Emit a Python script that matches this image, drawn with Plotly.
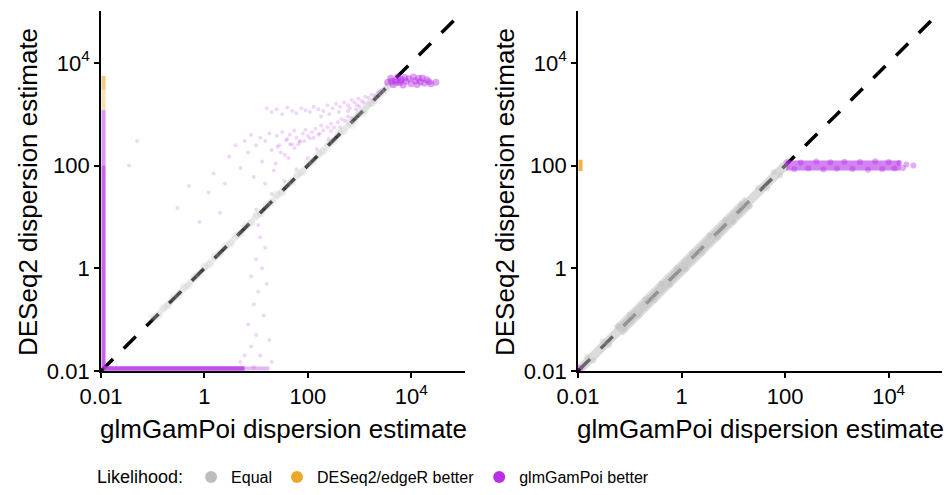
import plotly.graph_objects as go

# ---------------- data ----------------
# Left panel
a_eq_x = [0.1, 0.13, 0.16, 0.2, 0.25, 0.32, 0.4, 0.5, 0.63, 0.8, 1.0, 1.25, 1.6, 2.0, 2.5, 3.2, 4.0, 5.0,
          6.3, 8.0, 10, 12.5, 16, 20, 25, 32, 40, 50, 63, 80, 100, 125, 160, 200, 250, 320, 400, 500, 630,
          800, 1000, 1250, 1600, 2000, 2500, 3200, 4000,
          700, 900, 1150, 1400, 1800, 2200, 2800, 3500, 4500]
a_eq_y = [0.11, 0.12, 0.17, 0.19, 0.27, 0.30, 0.43, 0.47, 0.67, 0.76, 1.08, 1.18, 1.7, 1.9, 2.7, 3.0, 4.3, 4.7,
          6.8, 7.5, 10.8, 11.8, 17, 19, 27, 30, 43, 47, 68, 75, 108, 118, 170, 190, 270, 300, 430, 470, 680,
          760, 1080, 1180, 1700, 1900, 2700, 3000, 4200,
          620, 950, 1050, 1500, 1650, 2300, 2600, 3600, 3800]
a_eqline_x = [0.1, 4500]
a_eqline_y = [0.1, 4500]

a_pv_x = [0.0112, 0.0112]           # glmGamPoi better, DESeq2 at boundary (vertical band)
a_pv_y = [0.0112, 100]
a_pv2_x = [0.0112, 0.0112]
a_pv2_y = [100, 1200]
a_or_x = [0.0112, 0.0112]           # DESeq2/edgeR better
a_or_y = [1200, 3000]
a_or2_x = [0.0112, 0.0112]
a_or2_y = [3000, 5600]
a_ph_x = [0.0112, 6]                # glmGamPoi better, glmGamPoi at boundary (horizontal band)
a_ph_y = [0.0112, 0.0112]
a_ph2_x = [6, 18]
a_ph2_y = [0.0112, 0.0112]

a_fan_x = [16, 20, 25, 32, 40, 50, 60, 75, 90, 110, 130, 160, 200, 240, 300, 350, 420, 500, 600, 700, 800,
           950, 1100, 1300, 1500, 1700, 2000, 2300, 2600,
           3, 4, 5, 6, 7, 8, 9, 10, 12, 13, 15, 18, 20, 22, 25, 28, 32, 36, 40, 45, 50, 55, 60, 70, 80, 90,
           100, 120, 140, 160, 180, 200, 240, 280, 320, 380, 450, 520, 600, 700,
           0.05, 0.035, 0.3, 0.5, 0.8, 1.2, 1.5, 2, 2.5,
           10, 20, 35, 60, 100, 150, 250,
           6, 8, 10, 12, 7, 14, 9, 11, 16, 8, 13, 10, 15, 12, 11, 18, 20, 5, 9,
           180, 260, 400, 650, 900, 1200, 55, 85, 130, 30, 45, 70,
           26, 38, 65, 110, 170, 280, 420, 600, 850, 1000, 15, 24, 42]
a_fan_y = [1300, 1100, 1250, 1000, 1350, 1150, 1050, 1300, 1200, 1100, 1400, 1250, 1150, 1500, 1300, 1600,
           1400, 1700, 1500, 1900, 1700, 2000, 1800, 2200, 2100, 2400, 2300, 2700, 2900,
           150, 250, 90, 300, 180, 400, 60, 250, 350, 120, 300, 420, 200, 80, 380, 250, 450, 160, 330, 400,
           260, 480, 350, 300, 420, 500, 380, 450, 520, 400, 600, 480, 560, 650, 550, 700, 800, 750, 900, 850,
           300, 100, 15, 40, 8, 30, 70, 12, 45,
           14, 28, 50, 85, 140, 210, 330,
           0.02, 0.03, 0.05, 0.02, 0.08, 0.12, 0.2, 0.35, 0.5, 0.7, 1.0, 1.5, 2.5, 4, 7, 0.04, 0.015, 0.015,
           0.012,
           900, 1000, 1100, 1300, 1500, 1700, 220, 300, 350, 180, 260, 290,
           230, 310, 260, 340, 420, 470, 560, 1150, 1250, 1400, 45, 110, 140]

a_top_x = [3500, 4000, 4500, 5000, 5500, 6000, 6500, 7000, 7500, 8000, 9000, 10000, 11000, 12000, 13000,
           14000, 15000, 16500, 18000, 20000, 22000, 24000, 30000, 4200, 5200, 6200]
a_top_y = [4200, 5000, 3800, 4600, 5300, 4100, 4800, 3700, 5200, 4400, 4900, 3900, 5300, 4500, 3800, 5000,
           4300, 5100, 4000, 4700, 4300, 3900, 4200, 4400, 4200, 4500]

# Right panel
b_eq_x = [0.011, 110]
b_eq_y = [0.011, 110]
b_core_x = [0.06, 20]
b_core_y = [0.06, 20]
b_fz_x = [0.015, 0.02, 0.03, 0.04, 0.06, 0.08, 0.1, 0.15, 0.2, 0.3, 0.4, 0.6, 0.8, 1.2, 1.6, 2.5, 3.5, 5, 7,
          10, 14, 20, 30, 45, 60, 80]
b_fz_y = [0.019, 0.016, 0.038, 0.032, 0.075, 0.064, 0.125, 0.12, 0.25, 0.24, 0.5, 0.48, 1.0, 0.96, 2.0, 2.0,
          4.4, 4.0, 8.8, 8.0, 17.5, 16, 37, 36, 75, 64]

b_pb_x = [105, 17000]
b_pb_y = [100, 100]
b_pf_x = [110, 150, 200, 280, 400, 550, 750, 1000, 1400, 2000, 2800, 4000, 5500, 7500, 10000, 13000, 16000,
          19000, 22000, 30000, 0.0112]
b_pf_y = [118, 85, 115, 88, 120, 84, 116, 87, 119, 86, 117, 83, 121, 85, 118, 88, 112, 90, 105, 100, 0.0115]
b_or_x = [0.0112, 0.0112]
b_or_y = [78, 130]

diag = [0.01, 80000]

tick_vals = [0.01, 1, 100, 10000]
tick_text = ["0.01", "1", "100", "10<sup>4</sup>"]
legend_names = ["Equal", "DESeq2/edgeR better", "glmGamPoi better"]

# ---------------- styling ----------------
GRAY = "#BEBEBE"
ORANGE = "#EBA92A"
PURPLE = "#B730E8"
FONT = "Liberation Sans, Arial, Helvetica, sans-serif"

fig = go.Figure()

def add_diag(xa, ya):
    fig.add_trace(go.Scatter(x=diag, y=diag, mode="lines", xaxis=xa, yaxis=ya, showlegend=False,
                             line=dict(color="black", width=3.5, dash="17px,15px"), hoverinfo="skip"))

def add_line(x, y, xa, ya, color, width, op):
    fig.add_trace(go.Scatter(x=x, y=y, mode="lines", xaxis=xa, yaxis=ya, showlegend=False, opacity=op,
                             line=dict(color=color, width=width), hoverinfo="skip"))

def add_pts(x, y, xa, ya, color, size, op):
    fig.add_trace(go.Scatter(x=x, y=y, mode="markers", xaxis=xa, yaxis=ya, showlegend=False,
                             marker=dict(color=color, size=size, opacity=op, line=dict(width=0)),
                             hoverinfo="skip"))

# left panel
add_diag("x", "y")
add_line(a_eqline_x, a_eqline_y, "x", "y", GRAY, 6, 0.25)
add_pts(a_eq_x, a_eq_y, "x", "y", GRAY, 8, 0.2)
add_line(a_pv_x, a_pv_y, "x", "y", PURPLE, 4, 0.75)
add_line(a_pv2_x, a_pv2_y, "x", "y", PURPLE, 4, 0.5)
add_line(a_or_x, a_or_y, "x", "y", ORANGE, 4, 0.35)
add_line(a_or2_x, a_or2_y, "x", "y", ORANGE, 4, 0.6)
add_line(a_ph_x, a_ph_y, "x", "y", PURPLE, 4.5, 0.85)
add_line(a_ph2_x, a_ph2_y, "x", "y", PURPLE, 4, 0.35)
add_pts(a_fan_x, a_fan_y, "x", "y", PURPLE, 4, 0.2)
add_pts(a_top_x, a_top_y, "x", "y", PURPLE, 7, 0.45)

# right panel
add_diag("x2", "y2")
add_line(b_eq_x, b_eq_y, "x2", "y2", GRAY, 9, 0.55)
add_line(b_core_x, b_core_y, "x2", "y2", GRAY, 13, 0.5)
add_pts(b_fz_x, b_fz_y, "x2", "y2", GRAY, 6, 0.35)
add_line(b_pb_x, b_pb_y, "x2", "y2", PURPLE, 10, 0.6)
add_pts(b_pf_x, b_pf_y, "x2", "y2", PURPLE, 6, 0.4)
add_line(b_or_x, b_or_y, "x2", "y2", ORANGE, 4, 0.85)

# legend entries
for nm, col in zip(legend_names, [GRAY, ORANGE, PURPLE]):
    fig.add_trace(go.Scatter(x=[None], y=[None], mode="markers", name=nm, xaxis="x", yaxis="y",
                             marker=dict(color=col, size=12)))

W, H = 948, 495

def xax(dom, rng):
    return dict(type="log", domain=dom, range=rng, showline=True, linecolor="black", linewidth=1.8,
                ticks="outside", ticklen=5, tickwidth=1.5, tickcolor="black", tickvals=tick_vals,
                ticktext=tick_text, showgrid=False, zeroline=False, automargin=False,
                tickfont=dict(family=FONT, size=22, color="black"))

fig.update_layout(
    width=W, height=H, margin=dict(l=0, r=0, t=0, b=0, autoexpand=False),
    paper_bgcolor="white", plot_bgcolor="white",
    xaxis=dict(**xax([101 / W, 465 / W], [-2, 5.04]), anchor="y"),
    yaxis=dict(**xax([1 - 371 / H, 1 - 11 / H], [-2, 5.01]), anchor="x"),
    xaxis2=dict(**xax([578 / W, 942 / W], [-2, 5.03]), anchor="y2"),
    yaxis2=dict(**xax([1 - 371 / H, 1 - 11 / H], [-2, 5.01]), anchor="x2"),
    legend=dict(orientation="h", x=95 / W, xanchor="left", y=1 - 477 / H, yanchor="middle",
                font=dict(family=FONT, size=16, color="black"), itemwidth=30,
                title=dict(text="Likelihood:", font=dict(family=FONT, size=18, color="black"))),
    font=dict(family=FONT, color="black"),
)

titles = [
    dict(text="glmGamPoi dispersion estimate", x=283 / W, y=1 - 429 / H, textangle=0),
    dict(text="glmGamPoi dispersion estimate", x=760 / W, y=1 - 429 / H, textangle=0),
    dict(text="DESeq2 dispersion estimate", x=28 / W, y=1 - 192 / H, textangle=-90),
    dict(text="DESeq2 dispersion estimate", x=505 / W, y=1 - 192 / H, textangle=-90),
]
for t in titles:
    fig.add_annotation(text=t["text"], x=t["x"], y=t["y"], xref="paper", yref="paper",
                       xanchor="center", yanchor="middle", textangle=t["textangle"], showarrow=False,
                       font=dict(family=FONT, size=26, color="black"))

fig.write_html("out.html")
